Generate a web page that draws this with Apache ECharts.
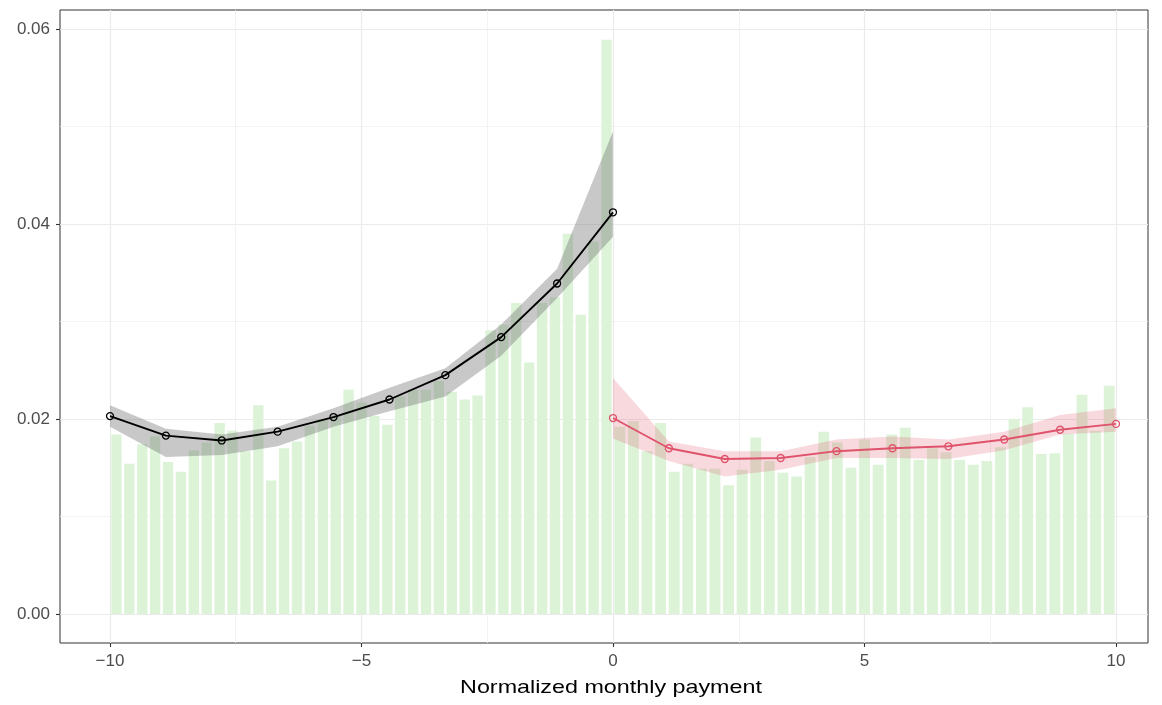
<!DOCTYPE html>
<html>
<head>
<meta charset="utf-8">
<script src="https://cdn.jsdelivr.net/npm/echarts@6/dist/echarts.min.js"></script>
<style>
html,body{margin:0;padding:0;background:#fff;}
#chart{width:1162px;height:705px;}
</style>
</head>
<body>
<div id="chart"></div>
<script>
// ---------- data ----------
// histogram bars left of cutoff (39 equal bins on [-10, 0])
const leftRange = [-10, 0];
const leftBars = [0.0184, 0.0154, 0.0174, 0.0182, 0.0156, 0.0146, 0.0168, 0.0176, 0.0196, 0.0188,
  0.0167, 0.0214, 0.0137, 0.0170, 0.0177, 0.0193, 0.0199, 0.0204, 0.0230, 0.0217,
  0.0203, 0.0194, 0.0223, 0.0230, 0.0230, 0.0239, 0.0228, 0.0220, 0.0224, 0.0291,
  0.0297, 0.0319, 0.0258, 0.0319, 0.0325, 0.0390, 0.0307, 0.0382, 0.0589];
// histogram bars right of cutoff (37 equal bins on [0, 10])
const rightRange = [0, 10];
const rightBars = [0.0192, 0.0198, 0.0167, 0.0196, 0.0146, 0.0154, 0.0149, 0.0149, 0.0132, 0.0148,
  0.0181, 0.0157, 0.0145, 0.0141, 0.0161, 0.0187, 0.0176, 0.0150, 0.0179, 0.0153,
  0.0184, 0.0191, 0.0158, 0.0170, 0.0166, 0.0158, 0.0153, 0.0157, 0.0171, 0.0200,
  0.0212, 0.0164, 0.0165, 0.0185, 0.0225, 0.0188, 0.0234];

// fitted curves with confidence bands
const leftX   = [-10, -8.889, -7.778, -6.667, -5.556, -4.444, -3.333, -2.222, -1.111, 0];
const leftFit = [0.0203, 0.0183, 0.0178, 0.0187, 0.0202, 0.0220, 0.0245, 0.0284, 0.0339, 0.0412];
const leftLo  = [0.0192, 0.0161, 0.0163, 0.0172, 0.0192, 0.0208, 0.0223, 0.0265, 0.0324, 0.0387];
const leftHi  = [0.0214, 0.0190, 0.0184, 0.0192, 0.0211, 0.0232, 0.0252, 0.0297, 0.0354, 0.0495];

const rightX   = [0, 1.111, 2.222, 3.333, 4.444, 5.556, 6.667, 7.778, 8.889, 10];
const rightFit = [0.0201, 0.0170, 0.0159, 0.0160, 0.0167, 0.0170, 0.0172, 0.0179, 0.0189, 0.0195];
const rightLo  = [0.0180, 0.0157, 0.0141, 0.0148, 0.0160, 0.0160, 0.0159, 0.0168, 0.0184, 0.0187];
const rightHi  = [0.0242, 0.0177, 0.0167, 0.0167, 0.0179, 0.0182, 0.0179, 0.0187, 0.0204, 0.0211];

// axis ticks
const xTicks = [-10, -5, 0, 5, 10];
const xMinorTicks = [-7.5, -2.5, 2.5, 7.5];
const yTicks = [0, 0.02, 0.04, 0.06];
const yMinorTicks = [0.01, 0.03, 0.05];
const xTitle = 'Normalized monthly payment';

// ---------- build ----------
function binsOf(values, range) {
  const w = (range[1] - range[0]) / values.length;
  return values.map((v, i) => [range[0] + i * w, range[0] + (i + 1) * w, v]);
}
const barData = binsOf(leftBars, leftRange).concat(binsOf(rightBars, rightRange));

const FONT = '"Liberation Sans", Arial, sans-serif';
const X_MIN = -10.994, X_MAX = 10.636, Y_MIN = -0.002974, Y_MAX = 0.061949;

function bandSeries(xs, lo, hi, fill) {
  return {
    type: 'custom',
    silent: true,
    data: [[xs[0], lo[0]]],
    z: 3,
    renderItem: function (params, api) {
      const pts = [];
      for (let i = 0; i < xs.length; i++) pts.push(api.coord([xs[i], hi[i]]));
      for (let i = xs.length - 1; i >= 0; i--) pts.push(api.coord([xs[i], lo[i]]));
      return { type: 'polygon', shape: { points: pts }, style: { fill: fill } };
    }
  };
}
function lineSeries(xs, ys, color) {
  return {
    type: 'line',
    z: 5,
    data: xs.map((x, i) => [x, ys[i]]),
    symbol: 'circle',
    symbolSize: 7,
    showSymbol: true,
    lineStyle: { color: color, width: 1.9 },
    itemStyle: { color: 'rgba(0,0,0,0)', borderColor: color, borderWidth: 1.3 },
    emphasis: { disabled: true },
    silent: true
  };
}

const chart = echarts.init(document.getElementById('chart'), null, { renderer: 'canvas' });
chart.setOption({
  animation: false,
  backgroundColor: '#fff',
  grid: { left: 60, right: 14, top: 10, bottom: 62, show: true, borderColor: '#333333', borderWidth: 1,
    backgroundColor: '#fff', outerBoundsMode: 'none', containLabel: false },
  xAxis: [{
    type: 'value', min: X_MIN, max: X_MAX,
    axisLine: { show: false, onZero: false },
    axisTick: { show: true, length: 4, lineStyle: { color: '#333333', width: 1.1 }, customValues: xTicks },
    axisLabel: { customValues: xTicks, margin: 10, color: '#4d4d4d', fontSize: 17, fontFamily: FONT,
      formatter: v => (v < 0 ? '\u2212' + Math.abs(v) : String(v)) },
    splitLine: { show: true, lineStyle: { color: '#ebebeb', width: 1.2 } }
  }, {
    type: 'value', min: X_MIN, max: X_MAX, position: 'bottom',
    axisLine: { show: false, onZero: false },
    axisTick: { show: false, customValues: xMinorTicks },
    axisLabel: { show: false, customValues: xMinorTicks },
    splitLine: { show: true, lineStyle: { color: '#f0f0f0', width: 0.8 } }
  }],
  yAxis: [{
    type: 'value', min: Y_MIN, max: Y_MAX,
    axisLine: { show: false, onZero: false },
    axisTick: { show: true, length: 4, lineStyle: { color: '#333333', width: 1.1 }, customValues: yTicks },
    axisLabel: { customValues: yTicks, margin: 10, color: '#4d4d4d', fontSize: 17, fontFamily: FONT,
      formatter: v => v.toFixed(2) },
    splitLine: { show: true, lineStyle: { color: '#ebebeb', width: 1.2 } }
  }, {
    type: 'value', min: Y_MIN, max: Y_MAX,
    axisLine: { show: false, onZero: false },
    axisTick: { show: false, customValues: yMinorTicks },
    axisLabel: { show: false, customValues: yMinorTicks },
    splitLine: { show: true, lineStyle: { color: '#f0f0f0', width: 0.8 } }
  }],
  graphic: [{
    type: 'text', x: 611, y: 688, scaleX: 1.26, silent: true,
    style: { text: xTitle, font: '18.5px "Liberation Sans", Arial, sans-serif', fill: '#000',
      align: 'center', verticalAlign: 'middle', textAlign: 'center', textVerticalAlign: 'middle' }
  }],
  series: [
    {
      type: 'custom',
      silent: true,
      z: 2,
      data: barData,
      encode: { x: [0, 1], y: 2 },
      renderItem: function (params, api) {
        const x0 = api.value(0), x1 = api.value(1), v = api.value(2);
        const pad = (x1 - x0) * 0.1;
        const a = api.coord([x0 + pad, v]);
        const b = api.coord([x1 - pad, 0]);
        return { type: 'rect', shape: { x: a[0], y: a[1], width: b[0] - a[0], height: b[1] - a[1] },
          style: { fill: '#dcf3d8' } };
      }
    },
    bandSeries(leftX, leftLo, leftHi, 'rgba(110,110,110,0.38)'),
    bandSeries(rightX, rightLo, rightHi, 'rgba(223,83,107,0.22)'),
    lineSeries(leftX, leftFit, '#000000'),
    lineSeries(rightX, rightFit, '#DF536B')
  ]
});
</script>
</body>
</html>
